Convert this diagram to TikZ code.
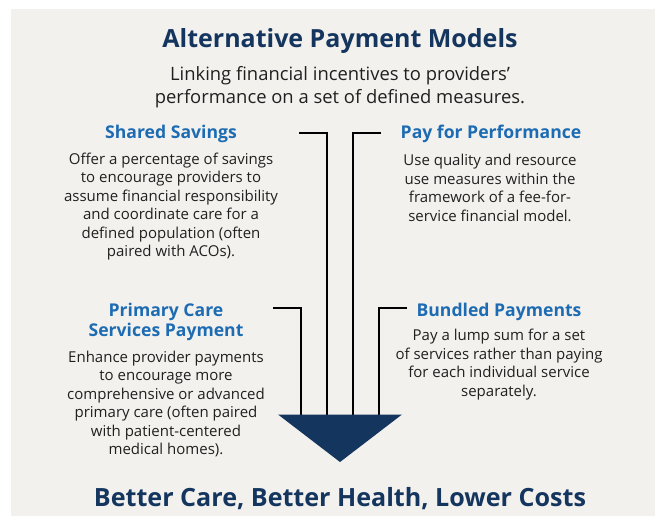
\documentclass[tikz,border=0pt]{standalone}
\usepackage{fontspec}
\setmainfont{Open Sans}
\definecolor{navy}{HTML}{14355E}
\definecolor{headblue}{HTML}{1D6CB3}
\definecolor{bodytext}{HTML}{231F20}
\definecolor{paper}{HTML}{F3F1EE}

\begin{document}
\begin{tikzpicture}[x=1pt,y=-1pt,
    heading/.style={text=headblue, align=center, font=\fontsize{17.6}{20.5}\selectfont\bfseries},
    body/.style={text=bodytext, align=center, font=\fontsize{15}{18.4}\selectfont},
    bar/.style={line width=2.8pt, black}]
    \useasboundingbox (0,0) rectangle (655,516);
    % Fond
    \fill[white] (0,0) rectangle (655,516);
    \fill[paper] (11,9) rectangle (655,516);
    % Titlu si subtitlu
    \node[text=navy, font=\fontsize{25}{28}\selectfont\bfseries] (title) at (340,41) {Alternative Payment Models};
    \node[text=bodytext, align=center, font=\fontsize{18.4}{22.5}\selectfont] (subtitle) at (340,87)
        {Linking financial incentives to providers’\\performance on a set of defined measures.};
    % Shared Savings
    \node[heading] (ss-head) at (171,134) {Shared Savings};
    \node[body] (ss-body) at (171,206.5) {Offer a percentage of savings\\to encourage providers to\\assume financial responsibility\\and coordinate care for a\\defined population (often\\paired with ACOs).};
    % Pay for Performance
    \node[heading] (pp-head) at (491,134) {Pay for Performance};
    \node[body] (pp-body) at (490,188) {Use quality and resource\\use measures within the\\framework of a fee-for-\\service financial model.};
    % Primary Care Services Payment
    \node[heading] (pc-head) at (166,322) {Primary Care\\Services Payment};
    \node[body] (pc-body) at (166,404) {Enhance provider payments\\to encourage more\\comprehensive or advanced\\primary care (often paired\\with patient-centered\\medical homes).};
    % Bundled Payments
    \node[heading] (bp-head) at (499,311.5) {Bundled Payments};
    \node[body] (bp-body) at (499,364.5) {Pay a lump sum for a set\\of services rather than paying\\for each individual service\\separately.};
    % Concluzie
    \node[text=navy, font=\fontsize{25.1}{30}\selectfont\bfseries] (result) at (340,499) {Better Care, Better Health, Lower Costs};
    % Puncte pentru linii
    \coordinate (ss-in) at (299,133);
    \coordinate (ss-bend) at (327,133);
    \coordinate (ss-out) at (327,415);
    \coordinate (pp-in) at (381,133);
    \coordinate (pp-bend) at (353,133);
    \coordinate (pp-out) at (353,415);
    \coordinate (pc-in) at (273,308);
    \coordinate (pc-bend) at (301,308);
    \coordinate (pc-out) at (301,415);
    \coordinate (bp-in) at (407,308);
    \coordinate (bp-bend) at (379,308);
    \coordinate (bp-out) at (379,415);
    % Linii spre palnie
    \draw[bar] (ss-in) -- (ss-bend) -- (ss-out);
    \draw[bar] (pp-in) -- (pp-bend) -- (pp-out);
    \draw[bar] (pc-in) -- (pc-bend) -- (pc-out);
    \draw[bar] (bp-in) -- (bp-bend) -- (bp-out);
    % Triunghiul
    \coordinate (tri-left) at (278,414.5);
    \coordinate (tri-right) at (402,414.5);
    \coordinate (tri-tip) at (340,462);
    \fill[navy] (tri-left) -- (tri-right) -- (tri-tip) -- cycle;
\end{tikzpicture}
\end{document}
